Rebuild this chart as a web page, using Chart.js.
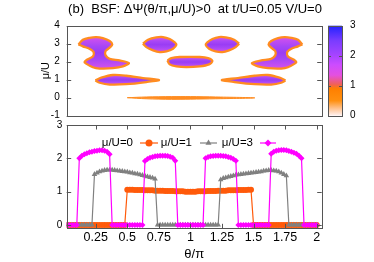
<!DOCTYPE html>
<html><head><meta charset="utf-8">
<script src="https://cdn.jsdelivr.net/npm/chart.js@4.4.0/dist/chart.umd.min.js"></script>
<style>
html,body{margin:0;padding:0;background:#fff;}
#wrap{position:relative;width:374px;height:262px;overflow:hidden;background:#fff;}
#top{position:absolute;left:0;top:0;}
#bot{position:absolute;left:0;top:118px;}
</style></head><body>
<div id="wrap">
<canvas id="top" width="374" height="124"></canvas>
<canvas id="bot" width="374" height="144"></canvas>
</div>
<script>
// ---------------- DATA ----------------
const titleText = '(b)  BSF: \u0394\u03A8(\u03B8/\u03C0,\u03BC/U)>0  at t/U=0.05 V/U=0';
const xTickValues = [0.25, 0.5, 0.75, 1, 1.25, 1.5, 1.75, 2];
const xTickLabels = ['0.25', '0.5', '0.75', '1', '1.25', '1.5', '1.75', '2'];
const muTicks = [-1, 0, 1, 2, 3, 4];
const bsfTicks = [0, 1, 2, 3];
const cbTicks = [0, 1, 2, 3];
const cbStops = [0, 0.25, 0.5, 0.9, 1.05, 1.35, 1.7, 2.0, 2.5, 3];
const cbColors = ['#fff2f2', '#ffc08a', '#ff9010', '#ff7f00', '#f0605a', '#e450e0', '#cc4cff', '#a844ff', '#7a3cff', '#2222ff'];
const seriesLabels = ['\u03BC/U=0', '\u03BC/U=1', '\u03BC/U=3'];

// top panel: regions where BSF > 0, outlines as [theta/pi, mu/U]
const blobA = [[0.113,2.96],[0.148,3.22],[0.201,3.33],[0.254,3.37],[0.306,3.31],[0.36,3.15],[0.381,2.96],[0.36,2.78],[0.328,2.59],[0.328,2.35],[0.36,2.16],[0.439,2.07],[0.513,1.92],[0.465,1.74],[0.386,1.64],[0.28,1.62],[0.227,1.69],[0.175,1.89],[0.161,1.98],[0.18,2.11],[0.227,2.29],[0.233,2.54],[0.2,2.72],[0.148,2.85]];
const blobA2 = [[1.887,2.96],[1.852,3.22],[1.799,3.33],[1.746,3.37],[1.694,3.31],[1.64,3.15],[1.619,2.96],[1.64,2.78],[1.672,2.59],[1.672,2.35],[1.64,2.16],[1.561,2.07],[1.487,1.92],[1.535,1.74],[1.614,1.64],[1.72,1.62],[1.773,1.69],[1.825,1.89],[1.839,1.98],[1.82,2.11],[1.773,2.29],[1.767,2.54],[1.8,2.72],[1.852,2.85]];
const blobB = [[0.624,3.0],[0.664,3.22],[0.730,3.35],[0.783,3.37],[0.836,3.26],[0.876,3.07],[0.889,2.94],[0.862,2.72],[0.81,2.57],[0.757,2.53],[0.704,2.63],[0.651,2.81]];
const blobB2 = [[1.386,3.0],[1.346,3.22],[1.28,3.35],[1.227,3.37],[1.174,3.26],[1.134,3.07],[1.121,2.94],[1.148,2.72],[1.2,2.57],[1.253,2.53],[1.306,2.63],[1.359,2.81]];
const blobC = [[0.818,2.07],[0.849,2.2],[0.915,2.26],[1.074,2.26],[1.14,2.2],[1.174,2.04],[1.148,1.85],[1.074,1.74],[0.968,1.70],[0.889,1.74],[0.836,1.85]];
const blobD = [[0.247,0.96],[0.294,1.11],[0.386,1.26],[0.492,1.22],[0.624,1.09],[0.751,0.98],[0.651,0.87],[0.492,0.75],[0.36,0.73],[0.281,0.83]];
const blobD2 = [[1.753,0.96],[1.706,1.11],[1.614,1.26],[1.508,1.22],[1.376,1.09],[1.249,0.98],[1.349,0.87],[1.508,0.75],[1.64,0.73],[1.719,0.83]];
const bandE = [[0.5,0.0],[0.65,0.04],[0.85,0.06],[1.0,0.06],[1.2,0.04],[1.51,-0.01],[1.2,-0.06],[1.0,-0.08],[0.85,-0.09],[0.65,-0.06]];

// bottom panel
const theta = [
0.02,0.04,0.06,0.08,0.10,0.12,0.14,0.16,0.18,0.20,
0.22,0.24,0.26,0.28,0.30,0.32,0.34,0.36,0.38,0.40,
0.42,0.44,0.46,0.48,0.50,0.52,0.54,0.56,0.58,0.60,
0.62,0.64,0.66,0.68,0.70,0.72,0.74,0.76,0.78,0.80,
0.82,0.84,0.86,0.88,0.90,0.92,0.94,0.96,0.98,1.00,
1.02,1.04,1.06,1.08,1.10,1.12,1.14,1.16,1.18,1.20,
1.22,1.24,1.26,1.28,1.30,1.32,1.34,1.36,1.38,1.40,
1.42,1.44,1.46,1.48,1.50,1.52,1.54,1.56,1.58,1.60,
1.62,1.64,1.66,1.68,1.70,1.72,1.74,1.76,1.78,1.80,
1.82,1.84,1.86,1.88,1.90,1.92,1.94,1.96,1.98,2.00];
const bsfMu0 = [
0,0,0,0,0,0,0,0,0,0,
0,0,0,0,0,0,0,0,0,0,
0,0,0,0,1.06,1.06,1.06,1.05,1.05,1.05,
1.05,1.04,1.04,1.04,1.04,1.03,1.03,1.03,1.03,1.02,
1.02,1.02,1.02,1.01,1.01,1.01,1.01,1.00,1.00,1.00,
1.00,1.00,1.01,1.01,1.01,1.01,1.02,1.02,1.02,1.02,
1.03,1.03,1.03,1.03,1.04,1.04,1.04,1.04,1.05,1.05,
1.05,1.05,1.06,1.06,0,0,0,0,0,0,
0,0,0,0,0,0,0,0,0,0,
0,0,0,0,0,0,0,0,0,0];
const bsfMu1 = [
0,0,0,0,0,0,0,0,0,0,
0,1.52,1.56,1.60,1.62,1.64,1.65,1.65,1.65,1.64,
1.63,1.62,1.61,1.60,1.59,1.57,1.56,1.54,1.53,1.51,
1.49,1.47,1.45,1.43,1.41,1.38,0,0,0,0,
0,0,0,0,0,0,0,0,0,0,
0,0,0,0,0,0,0,0,0,0,
0,1.36,1.40,1.42,1.44,1.46,1.48,1.50,1.51,1.52,
1.53,1.54,1.55,1.56,1.57,1.58,1.59,1.60,1.62,1.63,
1.64,1.64,1.63,1.62,1.60,1.56,1.52,1.48,0,0,
0,0,0,0,0,0,0,0,0,0];
const bsfMu3 = [
0,0,0,0,0,2.00,2.08,2.12,2.15,2.18,
2.20,2.22,2.23,2.24,2.24,2.23,2.20,2.12,0,0,
0,0,0,0,0,0,0,0,0,0,
0,1.92,1.98,2.02,2.04,2.06,2.07,2.08,2.08,2.08,
2.07,2.05,2.02,1.93,0,0,0,0,0,0,
0,0,0,0,0,2.00,2.04,2.06,2.07,2.08,
2.08,2.08,2.07,2.06,2.04,2.02,1.98,1.93,0,0,
0,0,0,0,0,0,0,0,0,0,
0,2.14,2.20,2.23,2.24,2.25,2.25,2.24,2.22,2.20,
2.17,2.14,2.08,2.00,0,0,0,0,0,0];

// ---------------- STYLE ----------------
const FONT = "'Liberation Sans', Arial, Helvetica, sans-serif";
const FRAME = '#555555';
const BLOB_FILL = '#a445f6';
const BLOB_EDGE = '#ff8c20';
const COL0 = '#ff5a0a', COL1 = '#808080', COL3 = '#ff00ff';

function px(v){ return Math.round(v) + 0.5; }

const framePlugin = {
  id: 'frame',
  afterDraw(chart, args, opts) {
    const {ctx, chartArea: a, scales} = chart;
    ctx.save();
    ctx.strokeStyle = FRAME;
    ctx.lineWidth = 1;
    const L = 4.5;
    const seg = (x1,y1,x2,y2)=>{ ctx.beginPath(); ctx.moveTo(x1,y1); ctx.lineTo(x2,y2); ctx.stroke(); };
    (opts.yTicks || []).forEach(v => {
      const y = px(scales.y.getPixelForValue(v));
      seg(a.left, y, a.left + L, y);
      seg(a.right, y, a.right - L, y);
    });
    (opts.xTicks || []).forEach(v => {
      const x = px(scales.x.getPixelForValue(v));
      seg(x, a.bottom, x, a.bottom - L);
      seg(x, a.top, x, a.top + L);
    });
    ctx.strokeRect(px(a.left), px(a.top), Math.round(a.right) - Math.round(a.left), Math.round(a.bottom) - Math.round(a.top));
    ctx.restore();
  }
};

const topExtras = {
  id: 'topExtras',
  afterDraw(chart) {
    const {ctx, chartArea: a} = chart;
    ctx.save();
    ctx.fillStyle = '#000';
    ctx.font = '13px ' + FONT;
    ctx.textAlign = 'center';
    ctx.textBaseline = 'middle';
    ctx.fillText(titleText, 195, 9.5);
    const x0 = 328, x1 = 342, y0 = a.top, y1 = a.bottom;
    const vmax = cbTicks[cbTicks.length - 1];
    const g = ctx.createLinearGradient(0, y1, 0, y0);
    cbStops.forEach((s, i) => g.addColorStop(s / vmax, cbColors[i]));
    ctx.fillStyle = g;
    ctx.fillRect(x0, y0, x1 - x0, y1 - y0);
    ctx.strokeStyle = FRAME;
    ctx.lineWidth = 1;
    ctx.strokeRect(x0 + 0.5, px(y0), x1 - x0, Math.round(y1) - Math.round(y0));
    ctx.fillStyle = '#000';
    ctx.font = '10px ' + FONT;
    ctx.textAlign = 'left';
    cbTicks.forEach(v => {
      const y = y1 - (y1 - y0) * v / vmax;
      ctx.fillText(String(v), 350, y);
      if (v > 0 && v < vmax) {
        ctx.beginPath();
        ctx.moveTo(x0, px(y)); ctx.lineTo(x0 + 3, px(y));
        ctx.moveTo(x1, px(y)); ctx.lineTo(x1 - 3, px(y));
        ctx.stroke();
      }
    });
    ctx.restore();
  }
};

// blob interior: violet core, pinker toward the upper and lower edges
function blobFill(c) {
  const chart = c.chart;
  const ds = chart.data.datasets[c.datasetIndex];
  const sy = chart.scales && chart.scales.y;
  if (!chart.chartArea || !sy || !ds) return BLOB_FILL;
  const ys = ds.data.map(p => p.y);
  const top = sy.getPixelForValue(Math.max(...ys));
  const bot = sy.getPixelForValue(Math.min(...ys));
  if (!isFinite(top) || !isFinite(bot) || bot - top < 1) return BLOB_FILL;
  const g = chart.ctx.createLinearGradient(0, top, 0, bot);
  g.addColorStop(0, '#d452ee');
  g.addColorStop(0.3, '#a646f6');
  g.addColorStop(0.5, '#9a3cf4');
  g.addColorStop(0.7, '#a646f6');
  g.addColorStop(1, '#d452ee');
  return g;
}

function shape(points, fillCol, edgeCol, w) {
  const d = points.map(p => ({x: p[0], y: p[1]}));
  d.push({x: points[0][0], y: points[0][1]});
  return {data: d, fill: 'shape', backgroundColor: fillCol, borderColor: edgeCol, borderWidth: w, pointRadius: 0, tension: 0.3};
}

new Chart(document.getElementById('top'), {
  type: 'line',
  data: {
    datasets: [
      shape(bandE, BLOB_EDGE, BLOB_EDGE, 1),
      shape(blobA, blobFill, BLOB_EDGE, 2.3),
      shape(blobA2, blobFill, BLOB_EDGE, 2.3),
      shape(blobB, blobFill, BLOB_EDGE, 2.3),
      shape(blobB2, blobFill, BLOB_EDGE, 2.3),
      shape(blobC, blobFill, BLOB_EDGE, 2.3),
      shape(blobD, blobFill, BLOB_EDGE, 2.3),
      shape(blobD2, blobFill, BLOB_EDGE, 2.3)
    ]
  },
  options: {
    responsive: false, animation: false, devicePixelRatio: 1,
    layout: {padding: {left: 0, right: 52.3, top: 25.7, bottom: 8.3}},
    plugins: {legend: {display: false}, tooltip: {enabled: false}, frame: {yTicks: muTicks}},
    scales: {
      x: {type: 'linear', min: 0.02, max: 2.04, display: false},
      y: {
        type: 'linear', min: -1, max: 4,
        afterFit(s) { s.width = 66.7; },
        afterBuildTicks(s) { s.ticks = muTicks.map(v => ({value: v})); },
        ticks: {font: {family: FONT, size: 10}, color: '#000', padding: 0},
        grid: {display: false, drawTicks: true, tickLength: 7},
        border: {display: false},
        title: {display: true, text: '\u03BC/U', color: '#000', font: {family: FONT, size: 11}, padding: {top: 39.4, bottom: 0}}
      }
    }
  },
  plugins: [framePlugin, topExtras]
});

function series(vals, label, col, style, r, order) {
  return {
    label: label,
    data: theta.map((t, i) => ({x: t, y: vals[i]})),
    borderColor: col, backgroundColor: col, borderWidth: 1.2,
    pointStyle: style, pointRadius: r, pointBorderWidth: 0, pointBackgroundColor: col,
    fill: false, tension: 0, order: order
  };
}

const legendPlugin = {
  id: 'legendBox',
  afterDatasetsDraw(chart) {
    const {ctx} = chart;
    const y = 25;
    const items = [
      {textRight: 133, l0: 140, l1: 158, col: COL0, style: 'circle', r: 3.5},
      {textRight: 192, l0: 200, l1: 217, col: COL1, style: 'triangle', r: 3.5},
      {textRight: 253, l0: 260, l1: 276, col: COL3, style: 'rectRot', r: 3.5}
    ];
    ctx.save();
    ctx.font = '11.5px ' + FONT;
    ctx.textAlign = 'right';
    ctx.textBaseline = 'middle';
    items.forEach((it, i) => {
      ctx.fillStyle = '#000';
      ctx.fillText(seriesLabels[i], it.textRight, y);
      ctx.strokeStyle = it.col; ctx.lineWidth = 1.2;
      ctx.beginPath(); ctx.moveTo(it.l0, y); ctx.lineTo(it.l1, y); ctx.stroke();
      ctx.fillStyle = it.col;
      Chart.helpers.drawPoint(ctx, {pointStyle: it.style, radius: it.r, rotation: 0, borderWidth: 0}, (it.l0 + it.l1) / 2, y);
    });
    ctx.restore();
  }
};

new Chart(document.getElementById('bot'), {
  type: 'line',
  data: {
    datasets: [
      series(bsfMu0, seriesLabels[0], COL0, 'circle', 3, 3),
      series(bsfMu1, seriesLabels[1], COL1, 'triangle', 3.2, 2),
      series(bsfMu3, seriesLabels[2], COL3, 'rectRot', 3, 1)
    ]
  },
  options: {
    responsive: false, animation: false, devicePixelRatio: 1,
    layout: {padding: {left: 0, right: 52.3, top: 7, bottom: 0}},
    plugins: {legend: {display: false}, tooltip: {enabled: false}, frame: {yTicks: bsfTicks, xTicks: xTickValues}},
    scales: {
      x: {
        type: 'linear', min: 0.02, max: 2.04,
        afterFit(s) { s.height = 33.7; },
        afterBuildTicks(s) { s.ticks = xTickValues.map(v => ({value: v})); },
        ticks: {font: {family: FONT, size: 12.5}, color: '#000', padding: 2.2, maxRotation: 0, autoSkip: false,
          callback(v) { const i = xTickValues.indexOf(v); return i >= 0 ? xTickLabels[i] : ''; }},
        grid: {display: false, drawTicks: false},
        border: {display: false},
        title: {display: true, text: '\u03B8/\u03C0', color: '#000', font: {family: FONT, size: 13}, padding: {top: 0, bottom: 0}}
      },
      y: {
        type: 'linear', min: -0.1, max: 3,
        afterFit(s) { s.width = 66.7; },
        afterBuildTicks(s) { s.ticks = bsfTicks.map(v => ({value: v})); },
        ticks: {font: {family: FONT, size: 10}, color: '#000', padding: 0},
        grid: {display: false, drawTicks: true, tickLength: 4.5},
        border: {display: false}
      }
    }
  },
  plugins: [framePlugin, legendPlugin]
});
</script>
</body></html>
